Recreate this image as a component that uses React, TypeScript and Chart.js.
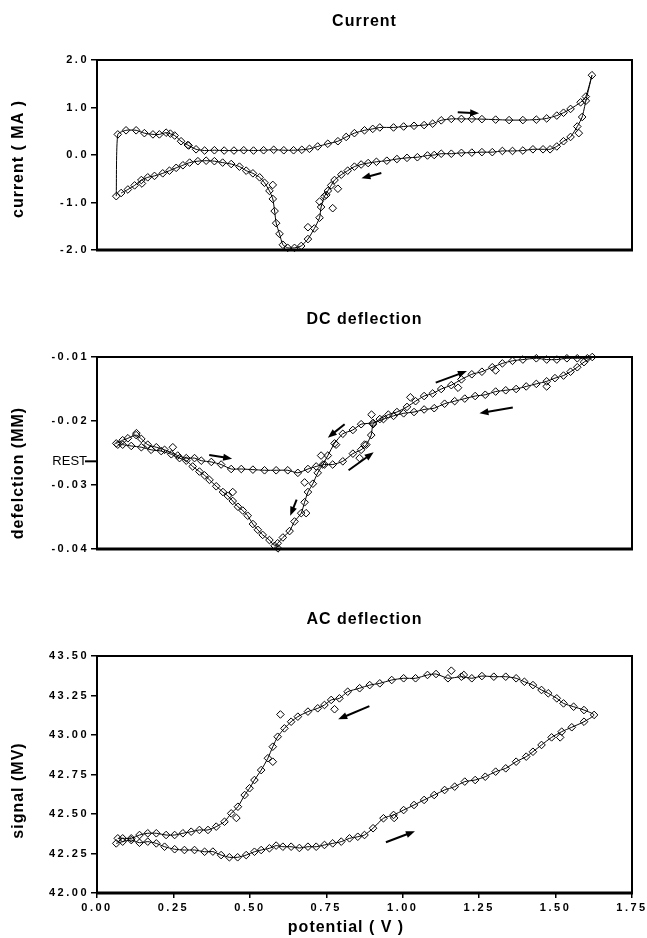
import React, { useEffect, useRef } from "react";
import { Chart, registerables } from "chart.js";

Chart.register(...registerables);

const FONT_FAMILY = '"Liberation Sans", Arial, Helvetica, sans-serif';

// ---------- Panel 1: Current (MA) vs potential (V) ----------
const currentLoop: number[][] = [
  [0.063, -0.867], [0.068, 0.434], [0.095, 0.52], [0.128, 0.52], [0.155, 0.46], [0.183, 0.434],
  [0.204, 0.434], [0.226, 0.47], [0.254, 0.41], [0.275, 0.29], [0.297, 0.21], [0.324, 0.12],
  [0.352, 0.094], [0.384, 0.1], [0.416, 0.094], [0.448, 0.094], [0.48, 0.1], [0.512, 0.094],
  [0.545, 0.1], [0.578, 0.11], [0.611, 0.1], [0.643, 0.1], [0.67, 0.11], [0.695, 0.13],
  [0.722, 0.18], [0.755, 0.237], [0.788, 0.29], [0.815, 0.38], [0.842, 0.46], [0.875, 0.52],
  [0.902, 0.55], [0.925, 0.58], [0.97, 0.58], [1.003, 0.6], [1.037, 0.615], [1.07, 0.63],
  [1.098, 0.66], [1.126, 0.73], [1.159, 0.76], [1.192, 0.76], [1.226, 0.76], [1.259, 0.755],
  [1.304, 0.745], [1.348, 0.735], [1.393, 0.735], [1.437, 0.745], [1.471, 0.77], [1.504, 0.83],
  [1.526, 0.89], [1.549, 0.97], [1.582, 1.11], [1.599, 1.23], [1.619, 1.68],
  [1.599, 1.14], [1.587, 0.8], [1.571, 0.6], [1.549, 0.38], [1.526, 0.29], [1.504, 0.18],
  [1.482, 0.12], [1.459, 0.12], [1.426, 0.12], [1.393, 0.094], [1.359, 0.085], [1.326, 0.085],
  [1.293, 0.06], [1.259, 0.06], [1.226, 0.05], [1.192, 0.045], [1.159, 0.027], [1.126, 0.027],
  [1.103, 0.0], [1.081, -0.01], [1.048, -0.047], [1.014, -0.06], [0.981, -0.085], [0.948, -0.12],
  [0.914, -0.143], [0.887, -0.17], [0.864, -0.2], [0.842, -0.245], [0.82, -0.33], [0.799, -0.415],
  [0.777, -0.527], [0.766, -0.64], [0.755, -0.755], [0.744, -0.87], [0.733, -1.095], [0.728, -1.32],
  [0.711, -1.547], [0.69, -1.77], [0.668, -1.915], [0.646, -1.955], [0.624, -1.955], [0.608, -1.89],
  [0.597, -1.66], [0.586, -1.435], [0.581, -1.18], [0.575, -0.925], [0.564, -0.755], [0.548, -0.585],
  [0.532, -0.47], [0.51, -0.386], [0.488, -0.33], [0.466, -0.245], [0.439, -0.19], [0.411, -0.16],
  [0.384, -0.13], [0.357, -0.12], [0.33, -0.13], [0.303, -0.16], [0.281, -0.216], [0.259, -0.27],
  [0.237, -0.33], [0.215, -0.386], [0.188, -0.44], [0.166, -0.47], [0.145, -0.527], [0.123, -0.64],
  [0.101, -0.726], [0.079, -0.8],
];
const currentOutliers: number[][] = [
  [0.575, -0.63], [0.147, -0.6], [0.728, -0.98], [0.75, -0.84], [0.771, -1.12], [0.788, -0.71],
  [0.69, -1.52], [1.576, 0.46], [0.3, 0.2], [0.24, 0.45],
];
const currentTicks = [-2, -1, 0, 1, 2];
const currentArrows: number[][] = [
  [1.18, 0.9, 1.25, 0.88],
  [0.93, -0.38, 0.865, -0.49],
];

// ---------- Panel 2: DC deflection (MM) ----------
const dcLoop: number[][] = [
  [0.063, -0.0235], [0.084, -0.023], [0.101, -0.0227], [0.128, -0.0222], [0.145, -0.0228],
  [0.166, -0.0237], [0.194, -0.0241], [0.221, -0.0245], [0.264, -0.0254], [0.292, -0.0258],
  [0.319, -0.0258], [0.341, -0.0262], [0.374, -0.0264], [0.406, -0.0268], [0.439, -0.0275],
  [0.472, -0.0275], [0.51, -0.0276], [0.548, -0.0277], [0.586, -0.0277], [0.624, -0.0277],
  [0.657, -0.0281], [0.69, -0.0275], [0.717, -0.0271], [0.744, -0.0268], [0.771, -0.0268],
  [0.804, -0.0263], [0.837, -0.0251], [0.864, -0.0245], [0.881, -0.0237], [0.897, -0.0222],
  [0.903, -0.0205], [0.925, -0.0197], [0.953, -0.019], [0.981, -0.0186], [1.014, -0.0178],
  [1.042, -0.0169], [1.07, -0.0161], [1.098, -0.0157], [1.126, -0.015], [1.159, -0.0144],
  [1.192, -0.0135], [1.226, -0.0127], [1.259, -0.0123], [1.293, -0.0116], [1.326, -0.011],
  [1.359, -0.0106], [1.393, -0.0104], [1.437, -0.0102], [1.471, -0.0104], [1.504, -0.0104],
  [1.537, -0.0102], [1.571, -0.0102], [1.604, -0.0102], [1.62, -0.01],
  [1.593, -0.0108], [1.571, -0.0116], [1.549, -0.0123], [1.526, -0.0129], [1.498, -0.0133],
  [1.471, -0.0138], [1.437, -0.0142], [1.404, -0.0146], [1.371, -0.015], [1.337, -0.0152],
  [1.304, -0.0154], [1.27, -0.0159], [1.237, -0.0161], [1.203, -0.0165], [1.17, -0.0169],
  [1.137, -0.0173], [1.103, -0.018], [1.07, -0.0182], [1.037, -0.0186], [1.003, -0.0188],
  [0.97, -0.0192], [0.937, -0.0197], [0.903, -0.0203], [0.864, -0.0205], [0.837, -0.0214],
  [0.804, -0.022], [0.777, -0.0235], [0.755, -0.0254], [0.739, -0.0268], [0.722, -0.0281],
  [0.706, -0.0298], [0.69, -0.0311], [0.679, -0.0327], [0.668, -0.0344], [0.646, -0.0357],
  [0.63, -0.0372], [0.608, -0.0382], [0.591, -0.0391], [0.581, -0.0395], [0.564, -0.0386],
  [0.542, -0.0378], [0.526, -0.037], [0.51, -0.0361], [0.493, -0.0348], [0.477, -0.034],
  [0.461, -0.0334], [0.444, -0.0325], [0.428, -0.0317], [0.412, -0.0311], [0.39, -0.0302],
  [0.368, -0.0292], [0.352, -0.0285], [0.335, -0.0279], [0.313, -0.0271], [0.292, -0.0262],
  [0.27, -0.0258], [0.243, -0.0252], [0.21, -0.0247], [0.177, -0.0245], [0.145, -0.0241],
  [0.112, -0.0239], [0.084, -0.0237], [0.068, -0.0237],
];
const dcOutliers: number[][] = [
  [0.248, -0.0241], [0.859, -0.0258], [0.782, -0.0237], [0.679, -0.0296], [0.684, -0.0344],
  [0.444, -0.0311], [0.733, -0.0254], [0.898, -0.019], [1.025, -0.0163], [1.181, -0.0148],
  [1.304, -0.0121], [1.471, -0.0146], [0.875, -0.0237], [0.129, -0.0219], [0.592, -0.0399],
];
const dcTicks = [-0.04, -0.03, -0.02, -0.01];
const dcRestValue = -0.0263;
const dcArrows: number[][] = [
  [0.367, -0.0253, 0.442, -0.0259],
  [0.823, -0.0277, 0.905, -0.0249],
  [1.108, -0.014, 1.21, -0.0122],
  [1.36, -0.0179, 1.251, -0.0188],
  [0.81, -0.0205, 0.755, -0.0226],
  [0.653, -0.0323, 0.632, -0.0348],
];

// ---------- Panel 3: AC deflection, signal (MV) ----------
const acLoop: number[][] = [
  [0.063, 42.314], [0.084, 42.325], [0.112, 42.335], [0.139, 42.318], [0.166, 42.325],
  [0.194, 42.314], [0.221, 42.293], [0.254, 42.277], [0.286, 42.272], [0.319, 42.272],
  [0.352, 42.261], [0.379, 42.262], [0.406, 42.24], [0.433, 42.226], [0.46, 42.226],
  [0.488, 42.24], [0.515, 42.261], [0.537, 42.272], [0.564, 42.283], [0.586, 42.3],
  [0.608, 42.293], [0.635, 42.293], [0.662, 42.285], [0.69, 42.293], [0.717, 42.293],
  [0.744, 42.304], [0.771, 42.314], [0.799, 42.325], [0.826, 42.346], [0.853, 42.356],
  [0.875, 42.367], [0.903, 42.41], [0.937, 42.473], [0.97, 42.494], [1.003, 42.525],
  [1.037, 42.557], [1.07, 42.589], [1.103, 42.62], [1.137, 42.652], [1.17, 42.673],
  [1.203, 42.705], [1.237, 42.715], [1.27, 42.736], [1.304, 42.768], [1.337, 42.789],
  [1.371, 42.831], [1.404, 42.863], [1.426, 42.894], [1.454, 42.937], [1.487, 42.985],
  [1.52, 43.021], [1.553, 43.049], [1.593, 43.084], [1.626, 43.127],
  [1.593, 43.158], [1.559, 43.179], [1.526, 43.2], [1.504, 43.232], [1.476, 43.264],
  [1.454, 43.285], [1.426, 43.316], [1.398, 43.337], [1.371, 43.359], [1.337, 43.369],
  [1.298, 43.369], [1.259, 43.373], [1.226, 43.359], [1.192, 43.369], [1.148, 43.359],
  [1.109, 43.386], [1.081, 43.38], [1.042, 43.359], [1.003, 43.359], [0.964, 43.348],
  [0.925, 43.327], [0.892, 43.316], [0.859, 43.296], [0.82, 43.274], [0.793, 43.232],
  [0.766, 43.222], [0.744, 43.19], [0.722, 43.169], [0.69, 43.148], [0.657, 43.116],
  [0.635, 43.084], [0.613, 43.042], [0.591, 42.989], [0.575, 42.926], [0.559, 42.853],
  [0.537, 42.778], [0.515, 42.715], [0.499, 42.663], [0.483, 42.62], [0.461, 42.546],
  [0.439, 42.504], [0.417, 42.451], [0.39, 42.42], [0.363, 42.399], [0.335, 42.399],
  [0.308, 42.388], [0.281, 42.378], [0.254, 42.367], [0.226, 42.367], [0.194, 42.378],
  [0.166, 42.378], [0.139, 42.367], [0.112, 42.346], [0.084, 42.346], [0.068, 42.346],
];
const acOutliers: number[][] = [
  [1.159, 43.407], [0.777, 43.163], [0.575, 42.831], [1.515, 42.985], [0.972, 42.475],
  [0.456, 42.475], [0.6, 43.13], [1.2, 43.38],
];
const acTicks = [42.0, 42.25, 42.5, 42.75, 43.0, 43.25, 43.5];
const acArrows: number[][] = [
  [0.891, 43.183, 0.789, 43.099],
  [0.945, 42.321, 1.04, 42.391],
];

const potentialTicks = [0, 0.25, 0.5, 0.75, 1.0, 1.25, 1.5, 1.75];
const potentialMin = 0;
const potentialMax = 1.75;

const toPoints = (pairs: number[][]) => pairs.map(([x, y]) => ({ x, y }));

const decorPlugin = {
  id: "decor",
  beforeDraw(chart: any) {
    chart.ctx.letterSpacing = "2.5px";
  },
  afterDraw(chart: any, _args: any, opts: any) {
    const { ctx, chartArea: a, scales } = chart;
    const xs = scales.x;
    const ys = scales.y;
    ctx.save();
    ctx.letterSpacing = "0px";
    ctx.strokeStyle = "#000";
    ctx.fillStyle = "#000";
    // frame
    ctx.lineWidth = 2;
    ctx.strokeRect(a.left, a.top, a.right - a.left, a.bottom - a.top);
    ctx.lineWidth = 3;
    ctx.beginPath();
    ctx.moveTo(a.left - 1, a.bottom);
    ctx.lineTo(a.right + 1, a.bottom);
    ctx.stroke();

    // arrows (data coordinates)
    for (const arr of opts.arrows || []) {
      const [x1, y1, x2, y2] = arr;
      const p1x = xs.getPixelForValue(x1);
      const p1y = ys.getPixelForValue(y1);
      const p2x = xs.getPixelForValue(x2);
      const p2y = ys.getPixelForValue(y2);
      const ang = Math.atan2(p2y - p1y, p2x - p1x);
      const hl = 9;
      const hw = 3.5;
      ctx.lineWidth = 2;
      ctx.beginPath();
      ctx.moveTo(p1x, p1y);
      ctx.lineTo(p2x - Math.cos(ang) * hl * 0.8, p2y - Math.sin(ang) * hl * 0.8);
      ctx.stroke();
      ctx.beginPath();
      ctx.moveTo(p2x, p2y);
      ctx.lineTo(p2x - Math.cos(ang) * hl - Math.sin(ang) * hw, p2y - Math.sin(ang) * hl + Math.cos(ang) * hw);
      ctx.lineTo(p2x - Math.cos(ang) * hl + Math.sin(ang) * hw, p2y - Math.sin(ang) * hl - Math.cos(ang) * hw);
      ctx.closePath();
      ctx.fill();
    }

    // REST marker
    if (opts.restValue !== undefined && opts.restValue !== null) {
      const py = ys.getPixelForValue(opts.restValue);
      ctx.lineWidth = 2;
      ctx.beginPath();
      ctx.moveTo(a.left - 12, py);
      ctx.lineTo(a.left, py);
      ctx.stroke();
      ctx.font = `13px ${FONT_FAMILY}`;
      ctx.textAlign = "right";
      ctx.textBaseline = "middle";
      ctx.fillText("REST", a.left - 10, py);
    }

    // titles
    ctx.font = `bold 16px ${FONT_FAMILY}`;
    ctx.letterSpacing = "1px";
    ctx.textAlign = "center";
    ctx.textBaseline = "middle";
    ctx.fillText(opts.title, (a.left + a.right) / 2, opts.titleY);
    ctx.save();
    ctx.translate(opts.yTitleX, (a.top + a.bottom) / 2 + opts.yTitleShift);
    ctx.rotate(-Math.PI / 2);
    ctx.fillText(opts.yTitle, 0, 0);
    ctx.restore();
    if (opts.xTitle) {
      ctx.fillText(opts.xTitle, opts.xTitleX, opts.xTitleY);
    }
    ctx.restore();
  },
};

const tickFont = { family: FONT_FAMILY, size: 11, weight: "bold" as const };

function makeConfig(p: any) {
  return {
    type: "scatter" as const,
    data: {
      datasets: [
        {
          data: toPoints(p.loop),
          showLine: true,
          borderColor: "#000",
          borderWidth: 1,
          tension: 0.2,
          pointStyle: "rectRot",
          pointRadius: 3.8,
          pointBorderWidth: 1,
          pointBorderColor: "#000",
          pointBackgroundColor: "rgba(255,255,255,0)",
          clip: false,
        },
        {
          data: toPoints(p.outliers),
          showLine: false,
          pointStyle: "rectRot",
          pointRadius: 3.8,
          pointBorderWidth: 1,
          pointBorderColor: "#000",
          pointBackgroundColor: "rgba(255,255,255,0)",
          clip: false,
        },
      ],
    },
    options: {
      responsive: false,
      animation: false,
      events: [],
      layout: { padding: p.padding },
      plugins: {
        legend: { display: false },
        tooltip: { enabled: false },
        title: { display: false },
        decor: p.decor,
      },
      scales: {
        x: {
          type: "linear",
          display: p.showX,
          min: potentialMin,
          max: potentialMax,
          afterBuildTicks: (s: any) => {
            s.ticks = potentialTicks.map((v) => ({ value: v }));
          },
          afterFit: (s: any) => {
            s.height = 45;
          },
          ticks: {
            color: "#000",
            font: tickFont,
            padding: 3,
            maxRotation: 0,
            autoSkip: false,
            callback: (v: any) => Number(v).toFixed(2),
          },
          grid: { display: true, drawOnChartArea: false, drawTicks: true, tickLength: 5, color: "#000", lineWidth: 1.5 },
          border: { display: false },
        },
        y: {
          type: "linear",
          min: p.yMin,
          max: p.yMax,
          afterBuildTicks: (s: any) => {
            s.ticks = p.yTicks.map((v: number) => ({ value: v }));
          },
          afterFit: (s: any) => {
            s.width = 97;
          },
          ticks: {
            color: "#000",
            font: tickFont,
            padding: 2,
            autoSkip: false,
            callback: (v: any) => Number(v).toFixed(p.yDecimals),
          },
          grid: { display: true, drawOnChartArea: false, drawTicks: true, tickLength: 6, color: "#000", lineWidth: 1.5 },
          border: { display: false },
        },
      },
    },
    plugins: [decorPlugin],
  };
}

function Panel({ top, height, params }: { top: number; height: number; params: any }) {
  const ref = useRef<HTMLCanvasElement | null>(null);
  useEffect(() => {
    if (!ref.current) return;
    const chart = new Chart(ref.current, makeConfig(params) as any);
    return () => chart.destroy();
  }, []);
  return (
    <div style={{ position: "absolute", left: 0, top, width: 647, height }}>
      <canvas ref={ref} width={647} height={height} style={{ width: 647, height, display: "block" }} />
    </div>
  );
}

const panel1 = {
  loop: currentLoop,
  outliers: currentOutliers,
  yMin: -2,
  yMax: 2,
  yTicks: currentTicks,
  yDecimals: 1,
  showX: false,
  padding: { top: 60, right: 15, bottom: 10, left: 0 },
  decor: {
    title: "Current",
    titleY: 22,
    yTitle: "current ( MA )",
    yTitleX: 19,
    yTitleShift: 4,
    arrows: currentArrows,
  },
};

const panel2 = {
  loop: dcLoop,
  outliers: dcOutliers,
  yMin: -0.04,
  yMax: -0.01,
  yTicks: dcTicks,
  yDecimals: 2,
  showX: false,
  padding: { top: 52, right: 15, bottom: 11, left: 0 },
  decor: {
    title: "DC deflection",
    titleY: 15,
    yTitle: "defelction (MM)",
    yTitleX: 19,
    yTitleShift: 20,
    arrows: dcArrows,
    restValue: dcRestValue,
  },
};

const panel3 = {
  loop: acLoop,
  outliers: acOutliers,
  yMin: 42,
  yMax: 43.5,
  yTicks: acTicks,
  yDecimals: 2,
  showX: true,
  padding: { top: 51, right: 15, bottom: 0, left: 0 },
  decor: {
    title: "AC deflection",
    titleY: 15,
    yTitle: "signal (MV)",
    yTitleX: 19,
    yTitleShift: 16,
    arrows: acArrows,
    xTitle: "potential ( V )",
    xTitleX: 346,
    xTitleY: 323,
  },
};

export default function App() {
  return (
    <div style={{ position: "absolute", left: 0, top: 0, width: 647, height: 938, background: "#fff" }}>
      <Panel top={0} height={305} params={panel1} />
      <Panel top={305} height={300} params={panel2} />
      <Panel top={605} height={333} params={panel3} />
    </div>
  );
}
